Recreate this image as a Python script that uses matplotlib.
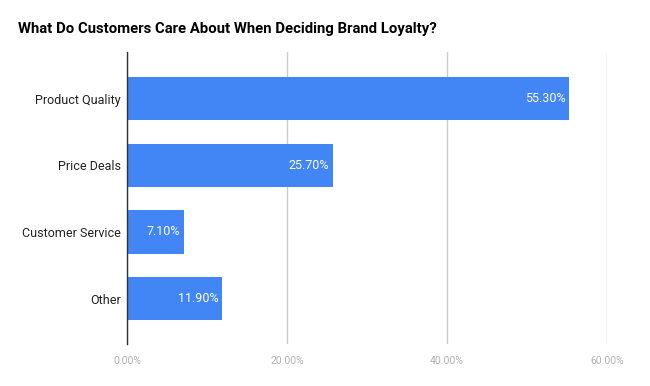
import matplotlib
matplotlib.use("Agg")
import matplotlib.pyplot as plt
from matplotlib import font_manager

categories = ["Product Quality", "Price Deals", "Customer Service", "Other"]
shares = [55.3, 25.7, 7.1, 11.9]
xticks = [0, 20, 40, 60]

plt.rcParams["font.family"] = ["Roboto", "DejaVu Sans"]

# narrow face for the title if one is installed
names = {f.name for f in font_manager.fontManager.ttflist}
title_fam = ["Liberation Sans Narrow", "Roboto"] if "Liberation Sans Narrow" in names else ["Roboto"]
title_size = 14 if "Liberation Sans Narrow" in names else 10.75

fig = plt.figure(figsize=(6.5, 3.86), dpi=100)
ax = fig.add_axes([127 / 650, 42 / 386, 480 / 650, 292 / 386])

ypos = list(range(len(categories)))
ax.barh(ypos, shares, height=0.65, color="#4285f4", zorder=3)

for y, v in zip(ypos, shares):
    ax.text(v - 0.5, y, f"{v:.2f}%", color="white", fontsize=9,
            ha="right", va="center", zorder=4)

ax.set_xlim(0, 60)
ax.set_ylim(3.68, -0.70)
ax.set_xticks(xticks)
ax.set_xticklabels([f"{t:.2f}%" for t in xticks], color="#b0b0b0", fontsize=7.5)
ax.set_yticks(ypos)
ax.set_yticklabels(categories, color="#222222", fontsize=9)
ax.tick_params(axis="y", length=0, pad=4.5)
ax.tick_params(axis="x", length=0, pad=9)

ax.grid(axis="x", color="#cccccc", lw=1, zorder=0)
for s in ["top", "right", "bottom"]:
    ax.spines[s].set_visible(False)
ax.spines["left"].set_color("#333333")
ax.spines["left"].set_linewidth(1)
ax.spines["left"].set_zorder(5)

fig.text(18 / 650, 1 - 29 / 386, "What Do Customers Care About When Deciding Brand Loyalty?",
         fontsize=title_size, fontweight="bold", color="#000000", va="center", ha="left",
         family=title_fam)

fig.savefig("out.png", dpi=100)
